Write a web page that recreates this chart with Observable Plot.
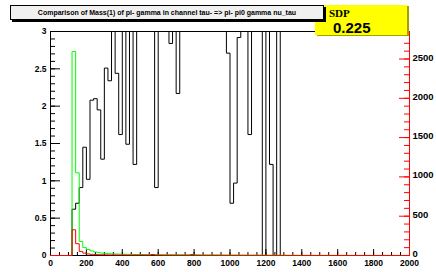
<!DOCTYPE html>
<html><head><meta charset="utf-8">
<script src="https://cdn.jsdelivr.net/npm/d3@7"></script>
<script src="https://cdn.jsdelivr.net/npm/@observablehq/plot@0.6"></script>
<style>
body{margin:0;background:#fff;}
#wrap{position:relative;width:436px;height:272px;font-family:"Liberation Sans",Arial,sans-serif;overflow:hidden;}
#title{position:absolute;left:10px;top:5px;width:312px;height:13px;background:#f0f0f0;border:1px solid #000;box-shadow:2px 2px 0 #000;font-weight:bold;font-size:7px;line-height:13px;text-align:center;z-index:3;color:#000;}
#sdp{position:absolute;left:315px;top:5px;width:92px;height:30px;background:#ffff00;box-shadow:2px 1px 0 #a0a000;z-index:2;}
#sdp .lab{position:absolute;left:14px;top:2px;font-family:"Liberation Serif","Times New Roman",serif;font-weight:bold;font-size:11px;color:#000;}
#sdp .val{position:absolute;left:18px;top:14px;font-weight:bold;font-size:15px;color:#000;}
</style></head><body><div id="wrap">
<div id="title"></div>
<div id="sdp"><span class="lab"></span><span class="val"></span></div>
</div>
<script>
// ---- data ----
const title = "Comparison of Mass(1) of pi- gamma in channel tau- => pi- pi0 gamma nu_tau";
const boxLabel = "SDP";
const boxValue = "0.225";
const binWidth = 20;
const xMin = 0, xMax = 2000;
const leftMax = 3;
const rightMax = 2850;
// black histogram (left axis), bins starting at 120; values at the top edge are >= 3
const blackStart = 120;
const blackValues = [0.62, 0.70, 0.91, 1.45, 1.02, 2.08, 2.10, 1.95, 1.29, 2.51,
  2.34, 3, 2.44, 1.62, 3, 1.49, 3, 1.22, 3, 3,
  3, 3, 3, 0.91, 3, 3, 3, 2.84, 3, 2.17,
  3, 3, 3, 3, 3, 3, 3, 3, 3, 3,
  3, 3, 3, 2.71, 0.70, 0.97, 2.92, 3, 3, 1.62,
  3, 3, 3, 0, 3, 1.22, 0, 3];
// green histogram (right axis units), bins starting at 120
const greenStart = 120;
const greenValues = [2595, 1052, 178, 100, 76, 58, 45, 36, 30, 26,
  23, 21, 19, 17, 16, 15, 14, 13, 12, 12,
  11, 11, 10, 10, 10, 9, 9, 9, 8, 8,
  8, 8, 7, 7, 7, 7, 6, 6, 6, 6,
  6, 5, 5, 5, 5, 5, 5, 4, 4, 4,
  4, 4, 4, 4, 3, 3, 3, 3, 3, 3,
  3, 3, 3, 2, 2, 2, 2, 2, 2, 2,
  2, 2, 2, 2, 2, 2, 2, 1, 1, 1,
  1, 1, 1, 1, 1, 1, 1, 1, 1, 1,
  1, 1, 1, 1];
// red histogram (right axis units), bins starting at 120
const redStart = 120;
const redValues = [327, 150, 50, 30, 20, 15, 12, 10, 9, 8,
  7, 7, 6, 6, 6, 5, 5, 5, 5, 5,
  5, 5, 12, 5, 4, 4, 4, 4, 4, 4,
  4, 4, 4, 12, 4, 3, 3, 3, 3, 3,
  3, 3, 2, 2, 2, 2, 2, 2, 2, 2,
  2, 2, 2, 1, 1, 1, 1, 1, 1, 1];
const xTicks = [0, 200, 400, 600, 800, 1000, 1200, 1400, 1600, 1800, 2000];
const xMinorStep = 50;
const leftTicks = [0, 0.5, 1, 1.5, 2, 2.5, 3];
const leftMinorStep = 0.1;
const rightTicks = [0, 500, 1000, 1500, 2000, 2500];
const rightMinorStep = 100;
const rightMinorMax = 2700;

// ---- build ----
document.getElementById("title").textContent = title;
document.querySelector("#sdp .lab").textContent = boxLabel;
document.querySelector("#sdp .val").textContent = boxValue;

const k = leftMax / rightMax; // right units -> left units

function steps(start, values, scale) {
  const pts = [{x: xMin, y: 0}, {x: start, y: 0}];
  values.forEach((v, i) => {
    pts.push({x: start + i * binWidth, y: v * scale});
    pts.push({x: start + (i + 1) * binWidth, y: v * scale});
  });
  const end = start + values.length * binWidth;
  pts.push({x: end, y: 0});
  if (end < xMax) pts.push({x: xMax, y: 0});
  return pts;
}

const W = 436, H = 272, mL = 50, mR = 27, mT = 31, mB = 17;
const fw = W - mL - mR, fh = H - mT - mB;

const xMinor = d3.range(xMin, xMax + 1e-9, xMinorStep);
const leftMinor = d3.range(0, leftMax + 1e-9, leftMinorStep);
const rightMinor = d3.range(0, rightMinorMax + 1e-9, rightMinorStep).map(v => v * k);

const plot = Plot.plot({
  width: W, height: H,
  marginLeft: mL, marginRight: mR, marginTop: mT, marginBottom: mB,
  style: {fontFamily: "'Liberation Sans', Arial, sans-serif", fontSize: "8.5px", fontWeight: "bold", background: "transparent", overflow: "visible"},
  x: {domain: [xMin, xMax], label: null},
  y: {domain: [0, leftMax], clamp: true, label: null},
  marks: [
    // frame
    Plot.ruleY([leftMax], {stroke: "#000"}),
    Plot.ruleY([0], {stroke: "#000"}),
    Plot.ruleX([xMin], {stroke: "#000"}),
    // ticks (inward)
    Plot.tickX(xMinor, {x: d => d, stroke: "#000", insetTop: fh - 3}),
    Plot.tickX(xTicks, {x: d => d, stroke: "#000", insetTop: fh - 6}),
    Plot.tickY(leftMinor, {y: d => d, stroke: "#000", insetRight: fw - 5}),
    Plot.tickY(leftTicks, {y: d => d, stroke: "#000", insetRight: fw - 10}),
    // histograms
    Plot.line(steps(blackStart, blackValues, 1), {x: "x", y: "y", stroke: "#000", strokeWidth: 1}),
    Plot.line(steps(greenStart, greenValues, k), {x: "x", y: "y", stroke: "#00ff00", strokeWidth: 1}),
    Plot.line(steps(redStart, redValues, k), {x: "x", y: "y", stroke: "#ff0000", strokeWidth: 1}),
    // right axis (red)
    Plot.ruleX([xMax], {stroke: "#ff0000"}),
    Plot.tickY(rightMinor, {y: d => d, stroke: "#ff0000", insetLeft: fw - 5}),
    Plot.tickY(rightTicks.map(v => v * k), {y: d => d, stroke: "#ff0000", insetLeft: fw - 10}),
    // axis labels
    Plot.axisX({ticks: xTicks, tickFormat: d => String(d), tickSize: 0, tickPadding: 4, label: null, fill: "#000"}),
    Plot.axisY({anchor: "left", ticks: leftTicks, tickFormat: d => String(d), tickSize: 0, tickPadding: 4, label: null, fill: "#000"}),
    Plot.axisY({anchor: "right", ticks: rightTicks.map(v => v * k), tickFormat: d => String(Math.round(d / k)), tickSize: 0, tickPadding: 3, dy: -1.5, label: null, fill: "#000", fontSize: 9.5})
  ]
});
plot.style.position = "absolute";
plot.style.left = "0px";
plot.style.top = "0px";
plot.style.zIndex = "1";
document.getElementById("wrap").appendChild(plot);
</script>
</body></html>
